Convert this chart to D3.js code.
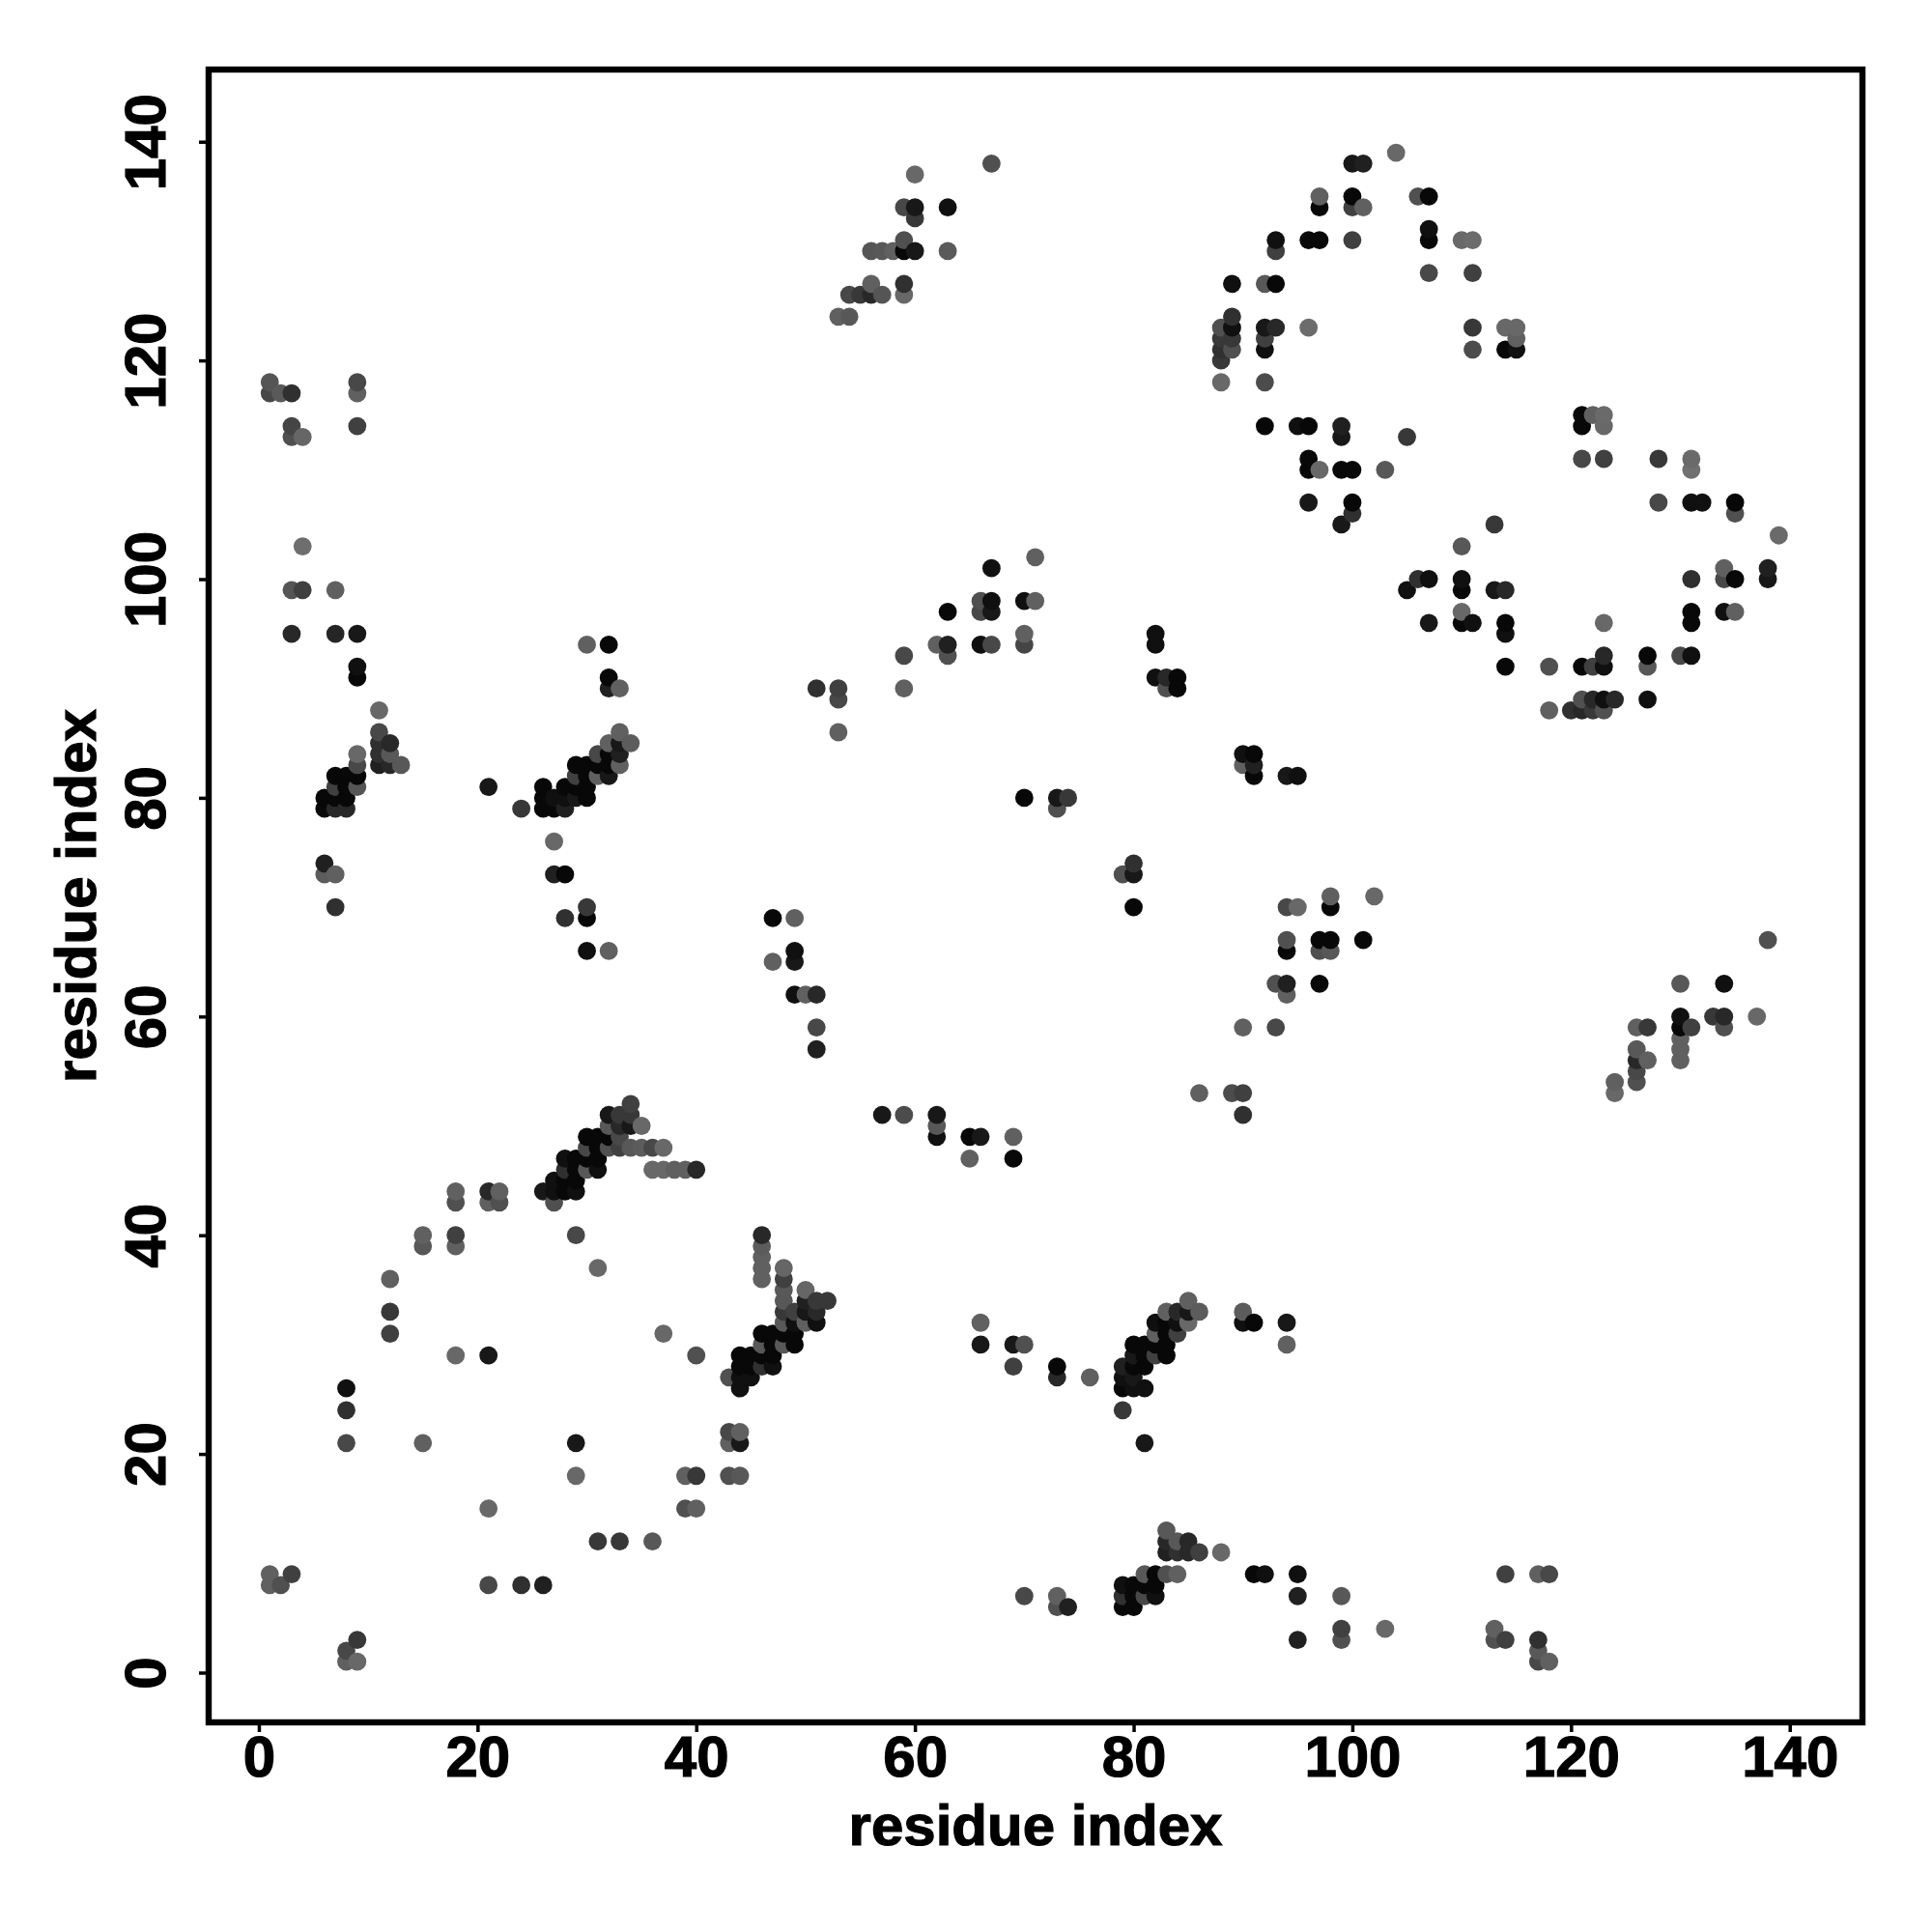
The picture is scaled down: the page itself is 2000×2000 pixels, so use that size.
<!DOCTYPE html>
<html lang="en">
<head>
  <meta charset="UTF-8">
  <title>Residue contact map</title>
  <script src="https://cdnjs.cloudflare.com/ajax/libs/d3/7.8.5/d3.min.js"></script>
  <style>
    body { margin: 0; background: #fff; }
    svg { display: block; }
    text { font-family: "Liberation Sans", Arial, sans-serif; font-weight: bold; fill: #000; stroke: #000; stroke-width: 1.2px; }
  </style>
</head>
<body>
  <div id="my_dataviz"></div>

  <script>
    // residue index on x, then for each of them the partner residues and their grey levels
    const residueX = [1, 2, 3, 4, 6, 7, 8, 9, 11, 12, 13, 15, 18, 21, 22, 24, 26, 27, 28, 29, 30, 31, 32, 33, 34, 35, 36, 37, 38, 39, 40,
      43, 44, 45, 46, 47, 48, 49, 50, 51, 52, 53, 54, 55, 56, 57, 58, 59, 60, 62, 63, 65, 66, 67, 69, 70, 71, 73, 74, 76, 79, 80, 81, 82, 83, 84, 85, 86, 88, 89,
      90, 91, 92, 93, 94, 95, 96, 97, 98, 99, 100, 101, 102, 103, 104, 105, 106, 107, 110, 111, 113, 114, 115, 117, 118,
      120, 121, 122, 123, 124, 126, 127, 128, 130, 131, 132, 133, 134, 135, 137, 138, 139];

    const residueY = [
      [117,118,8,9], [117,8], [95,99,113,114,117,9], [99,103,113],
      [73,74,79,80], [70,73,79,80,81,82,95,99], [1,2,21,24,26,79,80,81,82],
      [1,3,81,82,83,84,91,92,95,114,117,118],
      [83,84,85,86,88], [31,33,36,83,84,85], [83], [21,39,40], [29,39,40,43,44], [8,15,29,43,44,81], [43,44], [8,79],
      [8,44,79,80,81], [43,44,45,73,76,79,80], [44,45,46,47,69,73,79,80,81], [18,21,40,44,45,46,47,80,81,82,83],
      [46,47,48,49,66,69,70,80,81,82,83,94], [12,37,46,47,48,49,82,83,84], [48,49,50,51,66,82,83,84,85,90,91,94],
      [12,48,49,50,51,83,84,85,86,90], [48,50,51,52,85], [48,50], [12,46,48], [31,46,48], [46], [15,18,46], [15,18,29,46],
      [18,21,22,27], [18,21,22,26,27,28,29], [27,28,29], [28,29,30,31,36,37,38,39,40], [28,29,30,31,65,69],
      [30,31,32,33,34,35,36,37], [30,31,32,33,62,65,66,69], [32,33,34,35,62], [32,33,34,57,59,62,90], [34],
      [86,89,90,124], [124,126], [126], [126,127,130], [51,126,130], [130], [51,90,93,126,127,130,131,134], [130,133,134,137],
      [49,50,51,94], [93,94,97,130,134], [47,49], [30,32,49,94,97,98], [94,97,98,101,138], [28,30,47,49], [7,30,80,94,95,98], [98,102],
      [6,7,27,28,79,80], [6,80], [27], [6,7,8,24,26,27,28,73], [6,7,8,26,27,28,29,30,70,73,74], [7,8,9,21,26,28,29,30],
      [7,8,9,29,30,31,32,91,94,95], [9,11,12,13,29,30,31,32,33,90,91], [9,11,12,31,32,33,90,91], [11,12,32,33,34], [11,33,53],
      [11,118,120,121,122,123], [53,121,122,123,124,127],
      [32,33,51,53,59,83,84], [9,32,82,83,84], [9,114,118,121,122,123,127], [59,63,123,127,130,131], [30,32,62,63,66,67,70,82],
      [3,7,9,70,82,114], [107,110,111,114,123,131], [63,66,67,110,131,134,135], [66,67,70,71], [3,4,7,105,110,113,114],
      [106,107,110,131,134,135,138], [67,134,138], [71], [4,110], [139], [99,113], [100,135], [96,100,128,131,132,135],
      [96,97,99,100,103,131], [96,121,123,128,131], [3,4,99,105], [3,9,92,95,96,99,121,123], [121,122,123], [1,2,3,9], [1,9,88,92],
      [88], [88,89,92,111,114,115], [88,89,92,115], [88,89,92,93,96,111,114,115], [53,54,89], [54,55,56,57,59], [56,59,89,92,93],
      [107,111], [56,57,58,59,60,63,93], [59,93,96,97,100,107,110,111], [107], [60], [59,60,63,97,100,101], [97,100,106,107], [60],
      [67,100,101], [104]
    ];

    const greyLevel = [
      [0x48,0x55,0x60,0x60], [0x5a,0x50], [0x28,0x55,0x50,0x45,0x30,0x40], [0x40,0x6e,0x66],
      [0x5c,0x20,0x08,0x08], [0x30,0x60,0x28,0x08,0x40,0x08,0x25,0x60], [0x60,0x48,0x48,0x30,0x10,0x28,0x08,0x08,0x08],
      [0x68,0x38,0x55,0x08,0x48,0x68,0x08,0x10,0x18,0x40,0x60,0x48],
      [0x20,0x30,0x30,0x48,0x68], [0x40,0x38,0x60,0x28,0x58,0x28], [0x58], [0x60,0x58,0x60], [0x68,0x60,0x40,0x50,0x60], [0x48,0x68,0x18,0x60,0x28,0x18], [0x50,0x60], [0x30,0x38],
      [0x20,0x18,0x08,0x08,0x08], [0x50,0x10,0x10,0x20,0x68,0x08,0x10], [0x08,0x08,0x30,0x10,0x30,0x08,0x20,0x10,0x08], [0x68,0x18,0x48,0x10,0x08,0x08,0x08,0x18,0x08,0x40,0x08],
      [0x58,0x08,0x48,0x08,0x10,0x08,0x38,0x08,0x08,0x08,0x08,0x60], [0x38,0x68,0x10,0x08,0x08,0x08,0x60,0x08,0x48], [0x50,0x08,0x58,0x18,0x60,0x18,0x08,0x08,0x60,0x20,0x08,0x08],
      [0x38,0x40,0x48,0x28,0x38,0x60,0x20,0x18,0x60,0x60], [0x58,0x18,0x38,0x40,0x5c], [0x5c,0x68], [0x58,0x68,0x48], [0x68,0x68,0x68], [0x60], [0x50,0x60,0x60], [0x60,0x38,0x50,0x28],
      [0x50,0x60,0x48,0x50], [0x58,0x18,0x60,0x10,0x10,0x08,0x08], [0x10,0x08,0x08], [0x30,0x08,0x58,0x08,0x60,0x60,0x60,0x5c,0x28], [0x10,0x08,0x08,0x08,0x60,0x08],
      [0x58,0x08,0x58,0x38,0x58,0x58,0x40,0x66], [0x08,0x08,0x10,0x40,0x10,0x18,0x10,0x60], [0x60,0x18,0x20,0x66,0x60], [0x10,0x28,0x38,0x20,0x48,0x28,0x30], [0x38],
      [0x60,0x48,0x40,0x60], [0x58,0x48], [0x38], [0x28,0x60,0x55], [0x18,0x55,0x58], [0x60], [0x4c,0x60,0x48,0x68,0x30,0x08,0x50,0x48], [0x18,0x38,0x18,0x68],
      [0x10,0x58,0x18,0x60], [0x50,0x20,0x08,0x5a,0x10], [0x60,0x08], [0x18,0x60,0x18,0x10,0x48,0x50], [0x48,0x18,0x10,0x10,0x50], [0x40,0x18,0x08,0x60], [0x48,0x50,0x08,0x45,0x60,0x10], [0x60,0x60],
      [0x50,0x60,0x28,0x08,0x50,0x18], [0x20,0x38], [0x60], [0x08,0x30,0x10,0x38,0x08,0x10,0x20,0x50], [0x08,0x08,0x08,0x10,0x18,0x08,0x18,0x08,0x08,0x18,0x30], [0x48,0x08,0x58,0x18,0x10,0x08,0x08,0x08],
      [0x10,0x08,0x08,0x40,0x08,0x60,0x10,0x10,0x10,0x10], [0x50,0x20,0x28,0x58,0x08,0x08,0x08,0x08,0x60,0x50,0x28], [0x60,0x30,0x58,0x40,0x10,0x28,0x08,0x08], [0x28,0x28,0x68,0x18,0x60], [0x40,0x5c,0x60],
      [0x68,0x68,0x38,0x30,0x38,0x50], [0x4c,0x50,0x38,0x10,0x30,0x10],
      [0x10,0x5c,0x30,0x40,0x60,0x60,0x10], [0x08,0x08,0x08,0x20,0x08], [0x10,0x08,0x4c,0x10,0x40,0x18,0x58], [0x48,0x50,0x28,0x08,0x40,0x10], [0x60,0x18,0x60,0x20,0x08,0x50,0x48,0x18],
      [0x20,0x20,0x10,0x68,0x10,0x10], [0x18,0x08,0x08,0x08,0x6c,0x08], [0x08,0x50,0x08,0x68,0x08,0x08,0x60], [0x58,0x08,0x08,0x60], [0x50,0x40,0x58,0x18,0x08,0x18,0x20],
      [0x30,0x08,0x08,0x40,0x40,0x08,0x18], [0x08,0x60,0x20], [0x68], [0x68,0x58], [0x68], [0x10,0x38], [0x30,0x50], [0x18,0x10,0x48,0x08,0x10,0x08],
      [0x08,0x68,0x08,0x10,0x58,0x68], [0x10,0x4c,0x38,0x40,0x6c], [0x50,0x60,0x18,0x38], [0x40,0x40,0x08,0x10,0x08,0x28,0x08,0x68], [0x10,0x60,0x68], [0x48,0x58,0x30,0x60], [0x60,0x48,0x60,0x50],
      [0x30], [0x28,0x50,0x08,0x48,0x08,0x08], [0x38,0x28,0x40,0x60], [0x50,0x10,0x10,0x28,0x68,0x40,0x68,0x6a], [0x68,0x60,0x28], [0x50,0x48,0x28,0x58,0x60], [0x60,0x38,0x10,0x58,0x08],
      [0x48,0x38], [0x60,0x60,0x60,0x08,0x10,0x58,0x48], [0x40,0x10,0x08,0x08,0x30,0x10,0x70,0x6a], [0x10], [0x38], [0x50,0x28,0x10,0x10,0x48,0x60], [0x60,0x08,0x50,0x08], [0x68],
      [0x50,0x18,0x20], [0x6a]
    ];

    const xTickValues = [0, 20, 40, 60, 80, 100, 120, 140];
    const yTickValues = [0, 20, 40, 60, 80, 100, 120, 140];
    const axisTitle = "residue index";

    // plot frame in page pixels
    const frame = {left: 216, right: 1928, top: 72, bottom: 1783};

    const svg = d3.select("#my_dataviz")
      .append("svg")
      .attr("width", 2000)
      .attr("height", 2000);

    const x = d3.scaleLinear().domain([-4.59, 146.65]).range([frame.left, frame.right]);
    const y = d3.scaleLinear().domain([-4.55, 146.6]).range([frame.bottom, frame.top]);

    // flatten to points, later x and higher y are painted on top
    const contacts = residueX.flatMap((rx, i) =>
      residueY[i].map((ry, j) => ({x: rx, y: ry, grey: greyLevel[i][j]})));
    contacts.sort((a, b) => d3.ascending(a.x, b.x) || d3.ascending(a.y, b.y));

    svg.append("g")
      .selectAll("circle")
      .data(contacts)
      .enter().append("circle")
      .attr("cx", d => x(d.x))
      .attr("cy", d => y(d.y))
      .attr("r", 9.4)
      .attr("fill", d => d3.rgb(d.grey, d.grey, d.grey));

    // bottom axis
    const xAxis = svg.append("g")
      .attr("transform", `translate(0,${frame.bottom})`)
      .call(d3.axisBottom(x).tickValues(xTickValues).tickSize(10).tickFormat(d3.format("d")));
    xAxis.select(".domain").remove();
    xAxis.selectAll("line").attr("stroke", "#000").attr("stroke-width", 3.5);
    xAxis.selectAll("text")
      .attr("y", 56)
      .attr("dy", 0)
      .style("font-size", "60px");

    // left axis, labels read upward
    const yAxis = svg.append("g")
      .attr("transform", `translate(${frame.left},0)`)
      .call(d3.axisLeft(y).tickValues(yTickValues).tickSize(10).tickFormat(d3.format("d")));
    yAxis.select(".domain").remove();
    yAxis.selectAll("line").attr("stroke", "#000").attr("stroke-width", 3.5);
    yAxis.selectAll("text")
      .attr("x", 0)
      .attr("dy", 0)
      .attr("text-anchor", "middle")
      .attr("transform", "translate(-45,0) rotate(-90)")
      .style("font-size", "60px");

    svg.append("rect")
      .attr("x", frame.left)
      .attr("y", frame.top)
      .attr("width", frame.right - frame.left)
      .attr("height", frame.bottom - frame.top)
      .attr("fill", "none")
      .attr("stroke", "#000")
      .attr("stroke-width", 6.4);

    svg.append("text")
      .attr("x", (frame.left + frame.right) / 2)
      .attr("y", 1910)
      .attr("text-anchor", "middle")
      .style("font-size", "60px")
      .text(axisTitle);

    svg.append("text")
      .attr("transform", `translate(99,${(frame.top + frame.bottom) / 2}) rotate(-90)`)
      .attr("text-anchor", "middle")
      .style("font-size", "60px")
      .text(axisTitle);
  </script>
</body>
</html>
